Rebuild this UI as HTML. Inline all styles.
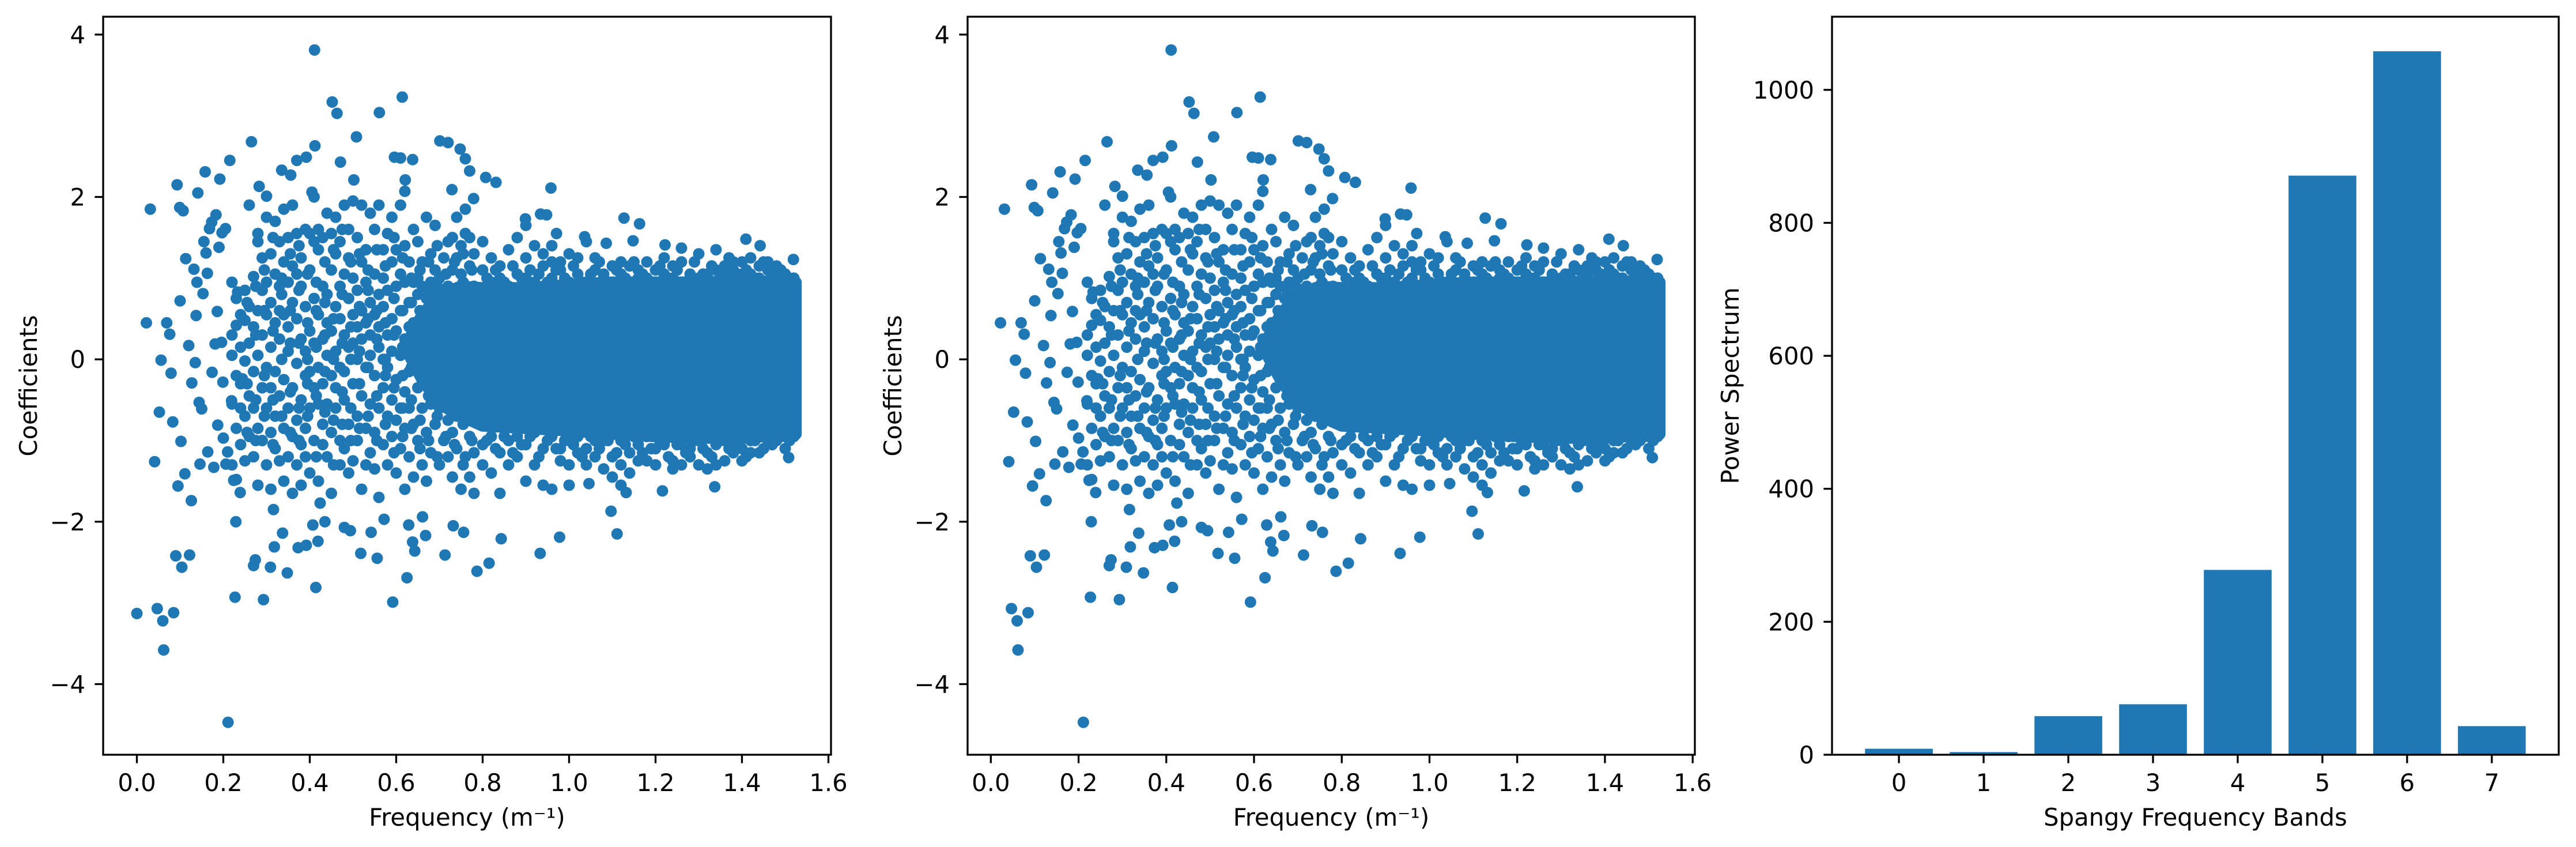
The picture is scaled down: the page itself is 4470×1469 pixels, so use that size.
<!DOCTYPE html>
<html><head><meta charset="utf-8">
<style>
html,body{margin:0;padding:0;background:#fff;}
svg{display:block;font-family:"DejaVu Sans","Liberation Sans",sans-serif;}
</style></head>
<body>
<svg id="fig" xmlns="http://www.w3.org/2000/svg" width="4470" height="1469" viewBox="0 0 4470 1469">
<rect width="4470" height="1469" fill="#fff"/>
</svg>
<script>
// ---- data ----
const outlierPoints = [
[0.000,-3.13],[0.022,0.45],[0.031,1.85],[0.041,-1.26],[0.047,-3.07],[0.056,-0.01],[0.052,-0.65],[0.060,-3.22],[0.062,-3.58],
[0.069,0.45],[0.076,0.31],[0.079,-0.17],[0.083,-0.77],[0.085,-3.12],[0.090,-2.42],[0.093,2.15],[0.095,-1.56],[0.099,1.87],
[0.100,0.72],[0.102,-1.01],[0.104,-2.56],[0.107,1.83],[0.111,-1.41],[0.113,1.24],[0.120,0.17],[0.122,-2.41],[0.126,-1.74],
[0.127,-0.29],[0.132,1.11],[0.135,-0.04],[0.137,0.54],[0.139,0.95],[0.141,2.05],[0.144,-0.53],[0.146,-1.29],[0.150,-0.61],
[0.153,0.81],[0.155,1.45],[0.158,2.31],[0.160,1.31],[0.163,1.06],[0.164,-1.14],[0.168,1.61],[0.173,1.69],[0.174,-0.16],
[0.178,-1.33],[0.181,0.19],[0.183,1.78],[0.186,0.59],[0.187,-0.81],[0.190,1.38],[0.192,2.22],[0.196,0.21],[0.197,1.56],
[0.199,-0.28],[0.200,-0.97],[0.205,1.61],[0.206,-1.29],[0.210,-1.14],[0.211,-4.47],[0.215,2.45],[0.219,-0.51],[0.224,-1.49],
[0.227,-2.93],[0.229,-2.00],[0.233,0.83],[0.239,-1.64],[0.244,-0.24],[0.265,2.68],[0.270,-2.54],[0.274,-2.47],[0.283,2.13],
[0.293,-2.96],[0.300,2.01],[0.309,-2.56],[0.316,-1.85],[0.318,-2.31],[0.335,2.33],[0.337,-2.14],[0.348,-2.63],[0.356,2.27],
[0.370,2.45],[0.373,-2.32],[0.392,2.49],[0.392,-2.29],[0.405,2.06],[0.411,3.81],[0.412,2.63],[0.414,-2.81],[0.419,-2.24],
[0.407,-2.04],[0.435,-2.00],[0.424,-1.77],[0.452,3.17],[0.463,3.03],[0.471,2.43],[0.480,-2.07],[0.494,-2.11],[0.502,2.21],
[0.508,2.74],[0.518,-2.39],[0.542,-2.13],[0.556,-2.45],[0.561,3.04],[0.572,-1.97],[0.592,-2.99],[0.596,2.49],[0.610,2.48],
[0.614,3.23],[0.620,2.07],[0.621,2.21],[0.625,-2.69],[0.629,-2.04],[0.638,2.46],[0.638,-2.25],[0.643,-2.36],[0.661,-1.94],
[0.668,-2.17],[0.701,2.69],[0.713,-2.41],[0.720,2.67],[0.729,2.09],[0.732,-2.05],[0.748,2.59],[0.756,-2.13],[0.760,2.47],
[0.770,2.32],[0.779,1.98],[0.787,-2.61],[0.807,2.24],[0.815,-2.51],[0.831,2.18],[0.843,-2.21],[0.899,1.73],[0.933,-2.39],
[0.934,1.79],[0.948,1.78],[0.958,2.11],[0.971,1.55],[0.978,-2.19],[1.036,1.51],[1.046,-1.53],[1.086,1.43],[1.097,-1.87],
[1.111,-2.15],[1.127,1.74],[1.132,-1.64],[1.148,1.46],[1.163,1.67],[1.216,-1.62],[1.222,1.41],[1.260,1.37],[1.337,-1.57],
[1.409,1.48],[1.442,1.40],[1.508,-1.21],[1.519,1.23]
];
const midFreq = [0.22,0.23,0.24,0.25,0.26,0.27,0.28,0.29,0.30,0.31,0.32,0.33,0.34,0.35,0.36,0.37,0.38,0.39,0.40,0.41,0.42,0.43,0.44,0.45,0.46,0.47,0.48,0.49,0.50,0.51,0.52,0.53,0.54,0.55,0.56,0.57,0.58,0.59,0.60,0.61,0.62,0.63,0.64,0.65,0.66,0.67,0.68,0.69,0.70,0.71,0.72,0.73,0.74,0.75,0.76,0.77,0.78];
const midCoef = [
[0.05,-0.55,0.3,-1.3,0.95],[0.42,-0.2,-0.85,0.75,-1.48],[0.15,-0.6,0.55,-1.05,-0.3],[0.48,-0.02,-0.7,-1.25,0.85],
[0.2,-0.45,1.9,-0.95,0.65],[-0.15,0.4,-1.2,1.02,-0.6],[0.05,1.45,-0.85,0.6,-1.55,1.55],[-0.35,0.85,-1.0,0.3,1.25],
[0.55,-0.1,-0.6,1.75,-1.3,0.95],[0.15,-0.9,1.3,-0.35,0.7,-1.6],[1.05,-0.15,0.45,-1.1,1.7,-0.7],[0.6,-0.45,0.9,-1.25,0.25,1.45],
[-0.25,1.2,-0.85,0.55,1.85,-1.5],[0.1,0.95,-0.6,-1.2,1.5,0.4],[-0.35,0.7,1.15,-0.95,1.9,-1.65],[0.5,-0.05,1.05,-0.75,-1.3,1.55],
[0.25,0.9,-0.5,1.25,-1.05,-1.55],[-0.2,0.65,1.6,-0.85,0.1,-1.2],[0.35,1.1,-0.6,1.55,-0.15,-1.4],[0.75,-0.35,1.45,-1.0,0.2,2.0],
[0.55,-0.1,1.35,-0.55,1.6,-1.5],[0.9,0.25,-0.8,1.5,-0.3,-1.05],[0.45,-0.55,1.8,0.8,-1.2,0.05],[1.1,-0.2,0.35,-0.9,1.55,-1.65],
[0.65,-0.6,1.3,0.1,-0.35,1.75],[0.9,-0.1,-1.0,0.5,1.45,-1.3],[0.3,1.05,-0.5,1.9,-0.15,-1.1],[0.75,-0.8,1.6,0.15,-1.4,1.25],
[0.55,-0.3,1.0,1.95,-1.25,0.2],[0.0,0.85,-0.7,1.5,-1.0,0.4],[0.6,-0.45,1.2,-1.6,1.9,0.25],[-0.1,0.95,0.45,-0.85,1.35,-1.3],
[0.3,-0.55,0.7,1.8,-1.15,0.05],[0.55,-0.2,1.05,-0.9,1.6,-1.35],[0.15,0.8,-0.6,1.9,-1.7,0.4],[0.65,-0.35,1.35,-1.05,0.0,1.0],
[0.3,-0.7,1.55,0.85,-1.3,-0.1],[0.5,-0.5,1.2,0.1,-0.95,1.75],[0.9,-0.25,0.35,-1.4,1.35,-0.75],[0.6,-0.6,1.05,0.05,-1.1,1.9],
[0.25,0.95,-0.4,1.4,-0.85,-1.6],[0.7,-0.15,1.2,-1.2,0.4,-0.6],[0.45,-0.8,1.6,0.1,-1.45,0.95],[0.8,-0.35,1.0,-1.0,0.2,1.45],
[0.55,-0.6,1.2,-1.3,0.0,0.9],[0.35,-0.2,1.75,-0.9,0.75,-1.5],[0.95,0.1,-0.55,1.3,-1.15,0.5],[0.65,-0.3,1.1,-0.8,1.65,0.25],
[0.4,-0.6,1.0,-1.3,0.05,0.8],[0.7,-0.1,1.25,-1.0,0.3,-0.5],[0.55,-0.75,1.45,0.15,-1.2,0.9],[0.35,1.1,-0.4,1.5,-1.45,-0.9],
[0.8,0.0,-0.7,1.25,1.75,-1.1],[0.5,-0.3,1.4,-1.6,0.2,1.05],[0.7,-0.6,1.55,-1.2,0.35,1.85],[0.45,-0.15,1.15,-0.95,-1.45,1.5],
[0.9,0.1,-0.5,1.3,-1.15,-1.65]
];
const mid2Freq = [0.255,0.275,0.295,0.315,0.335,0.355,0.375,0.395,0.415,0.435,0.455,0.475,0.495,0.515,0.535,0.555,0.575,0.595,0.615,0.635,0.655,0.675,0.695,0.715,0.735,0.755,0.775];
const mid2Coef = [
[-0.3,0.7,-0.9],[0.3,-0.5,0.9,-1.0],[0.6,-0.2,-0.7,1.1],[-0.5,0.35,1.5,-1.05],[0.0,0.8,-0.7,1.0],[0.6,-0.4,1.3,-0.9,0.2],
[0.2,-0.6,0.85,1.4,-1.0],[0.45,-0.3,1.05,-0.7,0.0],[0.15,-0.45,0.95,-1.2,0.6],[0.3,-0.15,1.2,-0.65,0.7],
[0.0,0.5,-0.75,1.35,-1.3],[0.2,-0.4,0.8,-0.8,1.6],[0.4,-0.6,1.2,0.0,-1.0],[0.1,0.65,-0.3,1.3,-0.85],
[0.5,-0.1,-0.7,1.1,0.85],[0.25,-0.45,0.6,-1.0,1.35],[0.0,0.45,-0.8,1.15,-0.2],[0.3,-0.35,0.75,-1.15,1.5],
[0.15,0.6,-0.6,1.25,-0.2,-0.95],[0.4,-0.5,1.0,-0.1,-0.85,0.7],[0.1,-0.2,0.6,-0.75,1.1,-1.1],[0.5,-0.45,0.85,-0.05,-1.0,1.2],
[0.2,-0.7,0.9,-0.3,1.4,-1.2],[0.45,-0.45,1.05,-0.1,-0.95,0.75],[0.0,0.6,-0.6,1.2,-1.05,0.3],[0.25,-0.35,0.95,-0.8,1.3,-1.3],
[0.55,-0.2,1.1,-0.7,0.0,-1.0]
];
const edgeFreq = [0.80,0.82,0.84,0.86,0.88,0.90,0.92,0.94,0.96,0.98,1.00,1.02,1.04,1.06,1.08,1.10,1.12,1.14,1.16,1.18,1.20,1.22,1.24,1.26,1.28,1.30,1.32,1.34,1.36,1.38,1.40,1.42,1.44,1.46,1.48,1.50,1.52];
const edgeCoef = [
[1.1,-1.05,1.45,-1.3],[1.25,-0.95,0.95,-1.4],[1.0,-1.15,1.15,-1.65],[1.35,-1.0,0.9,-1.3],[1.05,-1.2,1.5,-0.95],
[1.25,-1.05,1.0,-1.5,1.65],[0.95,-1.3,1.4,-0.9],[1.15,-1.1,1.3,-1.55],[1.0,-0.95,1.4,-1.6,1.2],[1.2,-1.25,1.1,-1.1],
[1.3,-1.0,0.95,-1.3,-1.55],[1.05,-1.15,1.25,-0.95],[1.45,-1.1,0.95,-1.3],[1.1,-1.0,1.25,-1.2],[1.0,-1.35,1.05,-1.0],
[1.15,-1.2,0.95,-1.45],[1.05,-1.0,1.2,-1.3,-1.55],[0.95,-1.15,1.15,-1.4],[1.1,-1.25,1.0,-1.05],[1.0,-0.95,1.2,-1.25],
[1.1,-1.1,0.95,-1.3],[1.05,-1.0,1.25,-1.05],[1.15,-1.25,1.0,-1.35],[1.2,-1.05,0.95,-1.3],[1.0,-1.2,1.05,-1.1],
[1.3,-1.0,1.0,-1.3],[1.05,-1.15,0.95,-1.35],[1.35,-1.05,1.1,-1.3],[1.15,-1.0,1.05,-1.25],[1.1,-1.05,1.2,-1.15],
[1.2,-1.1,0.95,-1.25],[1.05,-1.0,1.25,-1.15],[1.0,-1.15,1.15,-0.95],[1.2,-0.95,1.1,-1.0],[1.15,-1.0,1.05,-0.95],
[1.05,-0.95,0.9,-1.1],[1.0,-0.9,0.8,-0.95,0.6,-0.7,0.4,0.2,0.0,-0.2,-0.45]
];
const edge2Freq = [0.81,0.83,0.85,0.87,0.89,0.91,0.93,0.95,0.97,0.99,1.01,1.03,1.05,1.07,1.09,1.11,1.13,1.15,1.17,1.19,1.21,1.23,1.25,1.27,1.29,1.31,1.33,1.35,1.37,1.39,1.41,1.43,1.45,1.47,1.49,1.51];
const edge2Coef = [
[1.0,-1.0],[1.1,-1.1],[0.95,-0.95],[1.15,-1.15],[1.0,-1.05],[1.1,-0.95],[1.05,-1.2],[0.95,-1.0],[1.1,-1.1],[1.0,-1.0],
[1.15,-1.05],[0.95,-1.2],[1.05,-0.95],[1.2,-1.1],[0.95,-1.0],[1.1,-1.15],[1.0,-1.05],[1.2,-0.95],[1.05,-1.15],[0.95,-1.1],
[1.15,-1.0],[1.0,-1.2],[1.1,-1.05],[0.95,-1.15],[1.2,-1.0],[1.05,-1.1],[1.15,-1.2],[1.0,-1.0],[1.25,-1.1],[1.05,-1.05],
[1.1,-1.2],[1.0,-1.0],[1.2,-1.1],[1.05,-1.05],[1.1,-0.95],[1.0,-1.0]
];
// saturated dense core envelope (data units)
const coreFreq = [0.62,0.66,0.70,0.75,0.80,0.90,1.00,1.10,1.20,1.30,1.40,1.525,1.525,1.40,1.30,1.20,1.10,1.00,0.90,0.80,0.75,0.70,0.66];
const coreCoef = [0.15,0.55,0.80,0.90,0.88,0.88,0.92,0.95,0.95,0.95,0.97,0.95,-0.92,-0.97,-0.97,-0.95,-0.92,-0.88,-0.85,-0.82,-0.70,-0.55,-0.25];

const bandLabels = ['0','1','2','3','4','5','6','7'];
const bandPower = [9, 4, 58, 76, 278, 871, 1058, 43];
const scatterYTicks = [-4,-2,0,2,4];
const scatterXTicks = [0,0.2,0.4,0.6,0.8,1.0,1.2,1.4,1.6];
const barYTicks = [0,200,400,600,800,1000];

// ---- drawing ----
const NS='http://www.w3.org/2000/svg';
const svg=document.getElementById('fig');
const BLUE='#1f77b4';
function mk(tag,attrs,parent){const e=document.createElementNS(NS,tag);for(const k in attrs)e.setAttribute(k,attrs[k]);(parent||svg).appendChild(e);return e;}
function scale(d0,d1,p0,p1){return v=>p0+(v-d0)*(p1-p0)/(d1-d0);}

function allPoints(){
  const pts=outlierPoints.slice();
  midFreq.forEach((f,i)=>midCoef[i].forEach(c=>pts.push([f,c])));
  mid2Freq.forEach((f,i)=>mid2Coef[i].forEach(c=>pts.push([f,c])));
  edgeFreq.forEach((f,i)=>edgeCoef[i].forEach(c=>pts.push([f,c])));
  edge2Freq.forEach((f,i)=>edge2Coef[i].forEach(c=>pts.push([f,c])));
  return pts;
}

function axesFrame(g,L,R,T,B){
  const r=mk('rect',{x:L,y:T,width:R-L,height:B-T,fill:'none',stroke:'#000','stroke-width':3.3},g);
  
  
}
function xTick(g,x,B,label){
  mk('line',{x1:x,y1:B,x2:x,y2:B+14.6,stroke:'#000','stroke-width':3.3},g);
  const t=mk('text',{x:x,y:1372,'font-size':41.7,'text-anchor':'middle',fill:'#000'},g);
  t.textContent=label;
  
  
}
function yTick(g,L,y,label){
  mk('line',{x1:L-14.6,y1:y,x2:L,y2:y,stroke:'#000','stroke-width':3.3},g);
  const t=mk('text',{x:L-31,y:y+15,'font-size':41.7,'text-anchor':'end',fill:'#000'},g);
  t.textContent=label;
  
  
}
function fmtY(v){return v<0?'\u2212'+Math.abs(v):String(v);}

function scatterPanel(name,L,R,xmin,xmax,ylabX,filterZero){
  const T=29,B=1309;
  const g=mk('g',{});
  
  
  const sx=scale(xmin,xmax,L,R), sy=scale(-4.87,4.22,B,T);
  const clip=mk('clipPath',{id:name+'-clip'},g);
  mk('rect',{x:L,y:T,width:R-L,height:B-T},clip);
  const pg=mk('g',{'clip-path':'url(#'+name+'-clip)'},g);
  
  
  const poly=coreFreq.map((f,i)=>sx(f).toFixed(1)+','+sy(coreCoef[i]).toFixed(1)).join(' ');
  const core=mk('polygon',{points:poly,fill:BLUE,stroke:BLUE,'stroke-width':20,'stroke-linejoin':'round'},pg);
  
  
  allPoints().forEach(p=>{
    if(filterZero && p[0]<0.01) return;
    const c=mk('circle',{cx:sx(p[0]).toFixed(1),cy:sy(p[1]).toFixed(1),r:10,fill:BLUE},pg);
    
    
  });
  axesFrame(g,L,R,T,B);
  scatterXTicks.forEach(v=>xTick(g,sx(v),B,v.toFixed(1)));
  scatterYTicks.forEach(v=>yTick(g,L,sy(v),fmtY(v)));
  const xl=mk('text',{x:(L+R)/2,y:1432,'font-size':41.7,'text-anchor':'middle',fill:'#000'},g);
  xl.textContent='Frequency (m\u207B\u00B9)';
  
  
  const yl=mk('text',{x:0,y:0,'font-size':41.7,'text-anchor':'middle',fill:'#000',transform:'translate('+ylabX+','+((T+B)/2)+') rotate(-90)'},g);
  yl.textContent='Coefficients';
  
  
}

scatterPanel('coefficients-scatter-left',179,1442,-0.078,1.606,64,false);
scatterPanel('coefficients-scatter-middle',1679,2941,-0.053,1.605,1564,true);

// bar chart
(function(){
  const L=3179,R=4440,T=29,B=1309;
  const g=mk('g',{});
  
  
  const sx=scale(-0.79,7.79,L,R), sy=scale(0,1110,B,T);
  const bw=sx(0.8)-sx(0);
  bandPower.forEach((v,i)=>{
    const b=mk('rect',{x:(sx(i)-bw/2).toFixed(1),y:sy(v).toFixed(1),width:bw.toFixed(1),height:(B-sy(v)).toFixed(1),fill:BLUE},g);
    
    
  });
  axesFrame(g,L,R,T,B);
  bandLabels.forEach((lab,i)=>xTick(g,sx(i),B,lab));
  barYTicks.forEach(v=>yTick(g,L,sy(v),String(v)));
  const xl=mk('text',{x:(L+R)/2,y:1432,'font-size':41.7,'text-anchor':'middle',fill:'#000'},g);
  xl.textContent='Spangy Frequency Bands';
  
  
  const yl=mk('text',{x:0,y:0,'font-size':41.7,'text-anchor':'middle',fill:'#000',transform:'translate(3017,'+((T+B)/2)+') rotate(-90)'},g);
  yl.textContent='Power Spectrum';
  
  
})();
</script>
</body></html>
